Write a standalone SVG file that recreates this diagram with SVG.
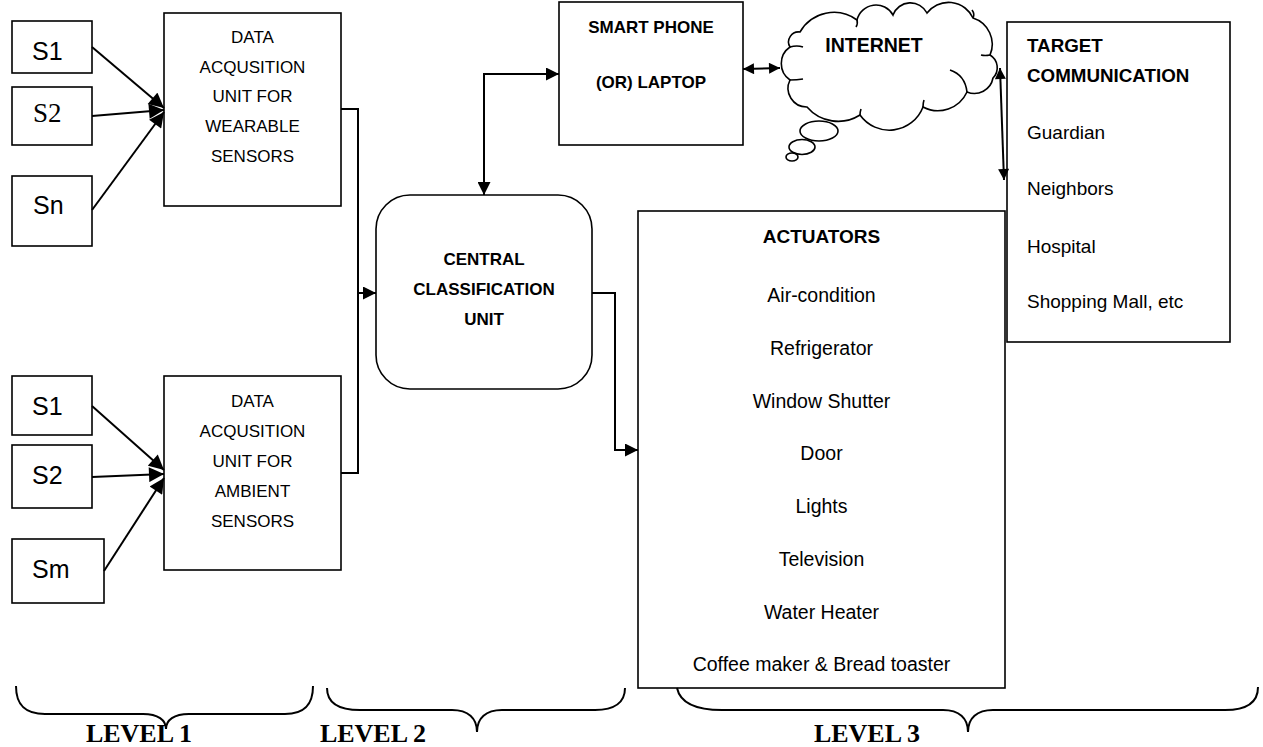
<svg xmlns="http://www.w3.org/2000/svg" width="1263" height="747" viewBox="0 0 1263 747">
<defs>
<style>
.box{fill:#fff;stroke:#000;stroke-width:1.6}
.ln{fill:none;stroke:#000;stroke-width:2}
.thin{fill:none;stroke:#000;stroke-width:1.6}
.t{font-family:"Liberation Sans",Arial,sans-serif;fill:#000}
.c{text-anchor:middle}
.b{font-weight:bold}
.lv{font-family:"Liberation Serif","Times New Roman",serif;font-weight:bold;font-size:26px;text-anchor:middle}
</style>
<marker id="arr" viewBox="0 0 10 10" refX="10" refY="5" markerWidth="15" markerHeight="13" markerUnits="userSpaceOnUse" orient="auto-start-reverse"><path d="M0,0 L10,5 L0,10 z" fill="#000"/></marker>
<marker id="arrS" viewBox="0 0 10 10" refX="10" refY="5" markerWidth="13" markerHeight="11" markerUnits="userSpaceOnUse" orient="auto-start-reverse"><path d="M0,0 L10,5 L0,10 z" fill="#000"/></marker>
<marker id="arrB" viewBox="0 0 10 10" refX="10" refY="5" markerWidth="16" markerHeight="15" markerUnits="userSpaceOnUse" orient="auto"><path d="M0,0 L10,5 L0,10 z" fill="#000"/></marker>
</defs>
<rect width="1263" height="747" fill="#fff"/>

<g id="s1-top"><rect class="box" x="12" y="21" width="80" height="52"/><text class="t" x="32" y="60" font-size="25">S1</text></g>
<g id="s2-top"><rect class="box" x="12" y="87" width="80" height="58"/><text x="33" y="122" font-size="27" font-family="Liberation Serif,serif">S2</text></g>
<g id="sn-top"><rect class="box" x="12" y="176" width="80" height="70"/><text class="t" x="33" y="214" font-size="25">Sn</text></g>

<g id="s1-bot"><rect class="box" x="12" y="376" width="80" height="59"/><text class="t" x="32" y="415" font-size="25">S1</text></g>
<g id="s2-bot"><rect class="box" x="12" y="445" width="80" height="63"/><text class="t" x="32" y="484" font-size="25">S2</text></g>
<g id="sm-bot"><rect class="box" x="12" y="539" width="92" height="64"/><text class="t" x="32" y="578" font-size="25">Sm</text></g>

<g id="dau-wearable"><rect class="box" x="164" y="13" width="177" height="193"/>
<g class="t c" font-size="17"><text x="252.5" y="43">DATA</text><text x="252.5" y="73">ACQUSITION</text><text x="252.5" y="102">UNIT FOR</text><text x="252.5" y="132">WEARABLE</text><text x="252.5" y="162">SENSORS</text></g></g>

<g id="dau-ambient"><rect class="box" x="164" y="376" width="177" height="194"/>
<g class="t c" font-size="17"><text x="252.5" y="407">DATA</text><text x="252.5" y="437">ACQUSITION</text><text x="252.5" y="467">UNIT FOR</text><text x="252.5" y="497">AMBIENT</text><text x="252.5" y="527">SENSORS</text></g></g>

<g id="ccu"><rect class="box" x="376" y="195" width="216" height="194" rx="34" ry="34"/>
<g class="t c b" font-size="17"><text x="484" y="265">CENTRAL</text><text x="484" y="295">CLASSIFICATION</text><text x="484" y="325">UNIT</text></g></g>

<g id="smartphone"><rect class="box" x="559" y="2" width="184" height="143"/>
<g class="t c b" font-size="17"><text x="651" y="33">SMART PHONE</text><text x="651" y="88">(OR) LAPTOP</text></g></g>

<g id="internet">
<path class="thin" d="M790 80 A20 20 0 0 1 790 47 A10 10 0 0 1 800 32 A39 39 0 0 1 857 20 A19.5 19.5 0 0 1 893 15 A18.6 18.6 0 0 1 927 13 A27 27 0 0 1 973 18 A27.5 27.5 0 0 1 990 55 A14.7 14.7 0 0 1 993 78 A19 19 0 0 1 967 92 A32 32 0 0 1 923 107 A36 36 0 0 1 860 115 A41 41 0 0 1 807 107 A18.7 18.7 0 0 1 790 80 Z"/>
<path class="thin" d="M790 47 Q797 45 803 47 M790 80 Q797 80 803 79 M950 70 Q965 75 967 92 M990 55 Q985 56 981 55 M923 107 Q923 103 924 100 M860 115 Q860 112 861 109 M857 20 Q858 24 856 27 M973 18 Q975 14 972 10"/>
<ellipse class="thin" cx="819" cy="131" rx="19" ry="10"/>
<ellipse class="thin" cx="802" cy="147" rx="13" ry="7.5"/>
<ellipse class="thin" cx="792" cy="157" rx="6" ry="4"/>
<text class="t c b" x="874" y="52" font-size="19.5">INTERNET</text>
</g>

<g id="target"><rect class="box" x="1007" y="22" width="223" height="320"/>
<g class="t b" font-size="18.8"><text x="1027" y="52">TARGET</text><text x="1027" y="82">COMMUNICATION</text></g>
<g class="t" font-size="19"><text x="1027" y="139">Guardian</text><text x="1027" y="195">Neighbors</text><text x="1027" y="253">Hospital</text><text x="1027" y="308">Shopping Mall, etc</text></g></g>

<g id="actuators"><rect class="box" x="638" y="211" width="367" height="477"/>
<text class="t c b" x="821.5" y="243" font-size="19">ACTUATORS</text>
<g class="t c" font-size="19.5"><text x="821.5" y="302">Air-condition</text><text x="821.5" y="355">Refrigerator</text><text x="821.5" y="408">Window Shutter</text><text x="821.5" y="460">Door</text><text x="821.5" y="513">Lights</text><text x="821.5" y="566">Television</text><text x="821.5" y="619">Water Heater</text><text x="821.5" y="671">Coffee maker &amp; Bread toaster</text></g></g>

<g id="connectors">
<line class="ln" x1="92" y1="47" x2="164" y2="108" marker-end="url(#arrB)"/>
<line class="ln" x1="92" y1="116" x2="164" y2="110" marker-end="url(#arrB)"/>
<line class="ln" x1="92" y1="210" x2="164" y2="112" marker-end="url(#arrB)"/>
<line class="ln" x1="92" y1="406" x2="164" y2="470" marker-end="url(#arrB)"/>
<line class="ln" x1="92" y1="477" x2="164" y2="474" marker-end="url(#arrB)"/>
<line class="ln" x1="104" y1="571" x2="164" y2="478" marker-end="url(#arrB)"/>
<path class="ln" d="M341 109 H358 V473 H341"/>
<path class="ln" d="M358 293 H376" marker-end="url(#arr)"/>
<path class="ln" d="M484 195 V74 H559" marker-start="url(#arr)" marker-end="url(#arr)"/>
<path class="ln" d="M592 293 H615 V450 H638" marker-end="url(#arr)"/>
<line class="ln" x1="743" y1="69" x2="780" y2="68" marker-start="url(#arrS)" marker-end="url(#arrS)"/>
<line class="ln" x1="1000" y1="68" x2="1004" y2="180" marker-start="url(#arrS)" marker-end="url(#arrS)"/>
</g>

<g id="levels">
<path class="ln" d="M16 686 C16 704 24 714 45 714 L143 714 C158 714 166 720 166 729 C166 720 174 714 189 714 L285 714 C305 714 313 704 313 686"/>
<path class="ln" d="M327 688 C327 702 338 710 360 710 L452 710 C468 710 477 718 477 732 C477 718 486 710 502 710 L595 710 C615 710 625 702 625 688"/>
<path class="ln" d="M677 688 C680 702 695 710 722 710 L943 710 C959 710 968 718 968 732 C968 718 977 710 993 710 L1225 710 C1248 710 1258 702 1258 687"/>
<text class="lv" x="139" y="742">LEVEL 1</text>
<text class="lv" x="373" y="742">LEVEL 2</text>
<text class="lv" x="867" y="742">LEVEL 3</text>
</g>
</svg>
